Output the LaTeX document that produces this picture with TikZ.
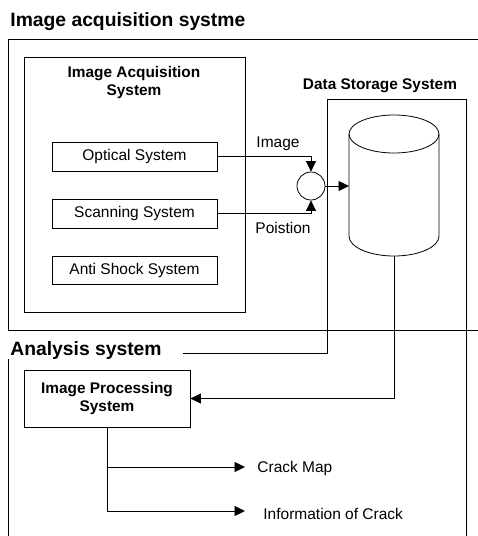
\documentclass[tikz,border=0pt]{standalone}
\usepackage{fontspec}
\setmainfont{Liberation Sans}
\usetikzlibrary{arrows.meta}
\begin{document}
\begin{tikzpicture}[x=1pt,y=-1pt,
  line width=0.8pt,
  nfont/.style={font=\fontsize{15.5}{18.5}\selectfont},
  bfont/.style={font=\fontsize{15.4}{18.5}\selectfont\bfseries},
  hfont/.style={font=\fontsize{19.3}{22}\selectfont\bfseries},
  sysbox/.style={draw, rectangle, inner sep=0pt, nfont},
  lbl/.style={inner sep=0pt, nfont},
  tip/.style={-{Triangle[length=10.5pt,width=10pt]}}
]
\useasboundingbox (0,0) rectangle (478,536);

% headings
\node[hfont, anchor=base west, inner sep=0pt] (hacq) at (10,26.5) {Image acquisition systme};
\node[hfont, anchor=base west, inner sep=0pt] (hana) at (10,355) {Analysis system};

% outer frames
\draw (478,39) -- (8,39) -- (8,330) -- (478,330);
\draw (8,359) -- (8,536);
\draw (183,353) -- (327,353) -- (327,99) -- (466,99) -- (466,536);

% inner acquisition box
\draw (24,57) rectangle (245,312);
\node[bfont, anchor=base, inner sep=0pt, align=center] (iat) at (134,95.5) {Image Acquisition\\System};

\node[sysbox, minimum width=165pt, minimum height=29pt] (opt) at (134.5,156.5) {Optical System};
\node[sysbox, minimum width=165pt, minimum height=29pt] (scan) at (134.5,213.5) {Scanning System};
\node[sysbox, minimum width=165pt, minimum height=28pt] (anti) at (134.5,270) {Anti Shock System};

% junction
\node[draw, circle, minimum size=28pt, inner sep=0pt] (jn) at (311,186) {};

\draw[tip] (opt.east) -- (jn.north |- opt.east) -- (jn.north);
\draw[tip] (scan.east) -- (jn.south |- scan.east) -- (jn.south);
\node[lbl, anchor=base] (limg) at (278,147) {Image};
\node[lbl, anchor=base] (lpos) at (283,233.5) {Poistion};

% data storage
\node[bfont, anchor=base, inner sep=0pt] (dst) at (380,89.5) {Data Storage System};
\draw (349,134) -- (349,236) arc[start angle=180, end angle=360, x radius=45, y radius=-20] -- (439,134);
\draw (394,134) ellipse [x radius=45, y radius=19];
\coordinate (cylL) at (349,186);
\coordinate (cylB) at (394,256);
\draw[tip] (jn.east) -- (cylL);

% analysis
\node[draw, rectangle, inner sep=0pt, minimum width=166pt, minimum height=57pt, bfont, align=center] (ips) at (107,398.5) {Image Processing\\System};
\draw[tip] (cylB) -- (cylB |- ips.east) -- (ips.east);

\coordinate (b1) at (245,467);
\coordinate (b2) at (245,511);
\draw[tip] (ips.south) -- (ips.south |- b2) -- (b2);
\draw[tip] (ips.south |- b1) -- (b1);
\node[lbl, anchor=base west] (lcm) at (257,472) {Crack Map};
\node[lbl, anchor=base west] (lic) at (263,519) {Information of Crack};
\end{tikzpicture}
\end{document}
